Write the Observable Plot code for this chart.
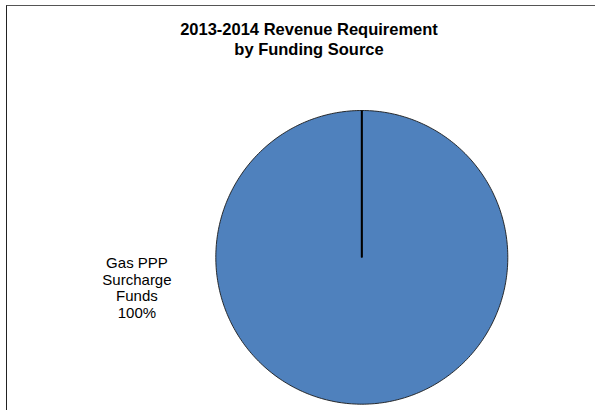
<!DOCTYPE html>
<html>
<head>
<meta charset="utf-8">
<script src="https://cdn.jsdelivr.net/npm/d3@7"></script>
<script src="https://cdn.jsdelivr.net/npm/@observablehq/plot@0.6"></script>
<style>
  html, body { margin: 0; padding: 0; background: #fff; }
  #wrap { position: relative; width: 595px; height: 410px; overflow: hidden; }
  #frame { position: absolute; left: 6px; top: 5px; width: 700px; height: 500px;
           border-left: 1.5px solid #222; border-top: 1.5px solid #555; pointer-events: none; }
  #chart { position: absolute; left: 0; top: 0; }
</style>
</head>
<body>
<div id="wrap"><div id="chart"></div><div id="frame"></div></div>
<script>
const title = "2013-2014 Revenue Requirement\nby Funding Source";
const categories = ["Gas PPP Surcharge Funds"];
const labelLines = ["Gas PPP\nSurcharge\nFunds"];
const values = [100];

const total = d3.sum(values);
const pie = d3.pie().sort(null).value(d => d.value);
const arcs = pie(categories.map((c, i) => ({category: c, label: labelLines[i], value: values[i]})));

// Build slice outlines in unit-circle coordinates
const slicePts = [];
const radials = [];
arcs.forEach((a, i) => {
  const n = 360;
  slicePts.push({slice: i, x: 0, y: 0});
  for (let k = 0; k <= n; k++) {
    const t = a.startAngle + (a.endAngle - a.startAngle) * k / n;
    slicePts.push({slice: i, x: Math.sin(t), y: Math.cos(t)});
  }
  slicePts.push({slice: i, x: 0, y: 0});
  radials.push({x1: 0, y1: 0, x2: Math.sin(a.startAngle), y2: Math.cos(a.startAngle)});
});

const labels = arcs.map(a => ({
  text: a.data.label + "\n" + Math.round(a.data.value / total * 100) + "%",
  x: -1.54, y: 0.008
}));

const chart = Plot.plot({
  width: 595,
  height: 410,
  margin: 0,
  x: {domain: [-1, 1], range: [215.3, 507.3], axis: null},
  y: {domain: [-1, 1], range: [403.7, 110], axis: null},
  style: {fontFamily: "'Liberation Sans', Arial, sans-serif", background: "#fff"},
  marks: [
    Plot.line(slicePts, {x: "x", y: "y", z: "slice", fill: "#4F81BD", stroke: "#1a1a1a", strokeWidth: 0.9, curve: "linear"}),
    Plot.link(radials, {x1: "x1", y1: "y1", x2: "x2", y2: "y2", stroke: "#000", strokeWidth: 2}),
    Plot.text(labels, {x: "x", y: "y", text: "text", fontSize: 15, lineHeight: 1.11, lineAnchor: "top", textAnchor: "middle", fill: "#000"}),
    Plot.text([title], {frameAnchor: "top", dx: 11, dy: 20.8, text: d => d, fontSize: 16.5, fontWeight: "bold", lineHeight: 1.18, lineAnchor: "top", fill: "#000"})
  ]
});
document.getElementById("chart").appendChild(chart);
</script>
</body>
</html>
